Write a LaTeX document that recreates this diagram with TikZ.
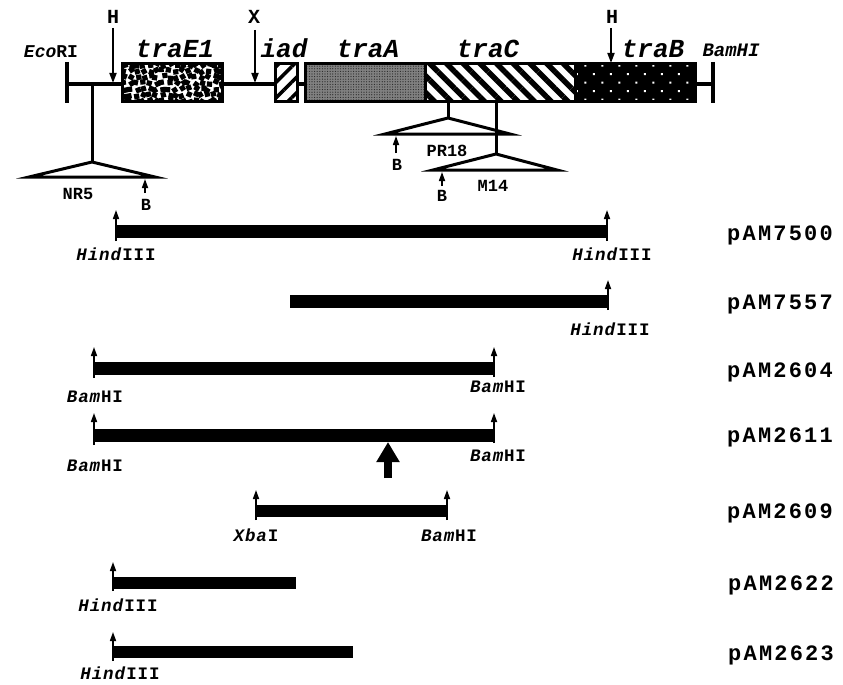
\documentclass[tikz,border=0pt]{standalone}
\usepackage{fontspec}
\setmonofont{Liberation Mono}
\newfontfamily\widemono[LetterSpace=10]{Liberation Mono}
\newfontfamily\sitemono[LetterSpace=5]{Liberation Mono}
\usetikzlibrary{patterns.meta,arrows.meta}

\tikzset{
  dna/.style={line width=3.5pt},
  endtick/.style={line width=4.5pt},
  genebox/.style={draw, line width=3pt},
  cutsite/.style={line width=1.8pt, -{Triangle[width=7pt,length=10pt]}},
  site/.style={line width=1.6pt, -{Triangle[width=6pt,length=9pt]}},
  insert/.style={line width=3pt, line join=miter},
  fragment/.style={fill=black},
  genelab/.style={font=\fontsize{26}{26}\selectfont\ttfamily\bfseries\itshape, inner sep=0pt, anchor=base},
  enzlab/.style={font=\fontsize{18}{18}\selectfont\ttfamily\bfseries, inner sep=0pt, anchor=base},
  sitelab/.style={font=\fontsize{20}{20}\selectfont\ttfamily\bfseries, inner sep=0pt, anchor=base},
  smalllab/.style={font=\fontsize{17}{17}\selectfont\ttfamily\bfseries, inner sep=0pt, anchor=base},
  reslab/.style={font=\fontsize{17.5}{17.5}\selectfont\sitemono\bfseries, inner sep=0pt, anchor=base},
  plasmid/.style={font=\fontsize{22}{22}\selectfont\widemono\bfseries, inner sep=0pt, anchor=base west},
}

\begin{document}
\begin{tikzpicture}[x=1pt,y=-1pt]
\useasboundingbox (0,0) rectangle (843,685);

% ---------------- physical map ----------------
\draw[dna] (67,84) -- (713,84);
\draw[endtick] (67,62) -- (67,103);
\draw[endtick] (713,62) -- (713,103);

% traE1: blotchy black squares
\fill[white] (122,64) rectangle (222,101);
\begin{scope}
  \clip (122,64) rectangle (222,101);
  \pgfmathsetseed{11}
  \foreach \gx in {124,130.5,...,224}{
    \foreach \gy in {65,71,...,103}{
      \pgfmathsetmacro\dx{\gx+2*rand}
      \pgfmathsetmacro\dy{\gy+1.6*rand}
      \pgfmathsetmacro\rot{35*rand}
      \fill[black, rotate around={\rot:(\dx,\dy)}] (\dx-2.6,\dy-2.6) rectangle (\dx+2.6,\dy+2.6);
    }
  }
\end{scope}
\draw[genebox] (122,64) rectangle (222,101);

% iad
\fill[white] (275,64) rectangle (297,101);
\fill[pattern={Lines[angle=45,distance=11pt,line width=3.5pt]}] (275,64) rectangle (297,101);
\draw[genebox] (275,64) rectangle (297,101);

% traA
\fill[black!50] (305,64) rectangle (425,101);
\fill[pattern={Dots[distance=2.6pt,radius=0.6pt]}, pattern color=black!85] (305,64) rectangle (425,101);

% traC
\fill[white] (425,64) rectangle (575,101);
\fill[pattern={Lines[angle=-45,distance=11.8pt,line width=5.5pt]}] (425,64) rectangle (575,101);

% traB
\fill[black] (575,64) rectangle (695,101);
\fill[pattern={Dots[angle=45,distance=12pt,radius=1.4pt]}, pattern color=white] (575,64) rectangle (695,101);

\draw[genebox] (305,64) rectangle (425,101);
\draw[genebox] (425,64) rectangle (575,101);
\draw[genebox] (575,64) rectangle (695,101);

% labels over the map
\node[enzlab] (ecori) at (51,58) {\textit{Eco}RI};
\node[genelab] (ltraE) at (175,58) {traE1};
\node[genelab] (liad) at (284,58) {iad};
\node[genelab] (ltraA) at (368,58) {traA};
\node[genelab] (ltraC) at (488,58) {traC};
\node[genelab] (ltraB) at (653,58) {traB};
\node[enzlab, font=\fontsize{19}{19}\selectfont\ttfamily\bfseries\itshape] (bamtop) at (731,57) {BamHI};

% restriction sites on the map
\node[sitelab] (h1) at (113,24) {H};
\node[sitelab] (x1) at (254,24) {X};
\node[sitelab] (h2) at (612,24) {H};
\coordinate (h1t) at (113,83);
\coordinate (x1t) at (255,83);
\coordinate (h2t) at (611,63);
\draw[cutsite] (113,28) -- (h1t);
\draw[cutsite] (255,30) -- (x1t);
\draw[cutsite] (611,28) -- (h2t);

% insertions
\draw[insert] (92,84) -- (92,162);
\draw[insert] (29,177) -- (92,162) -- (155,177) -- cycle;
\node[smalllab] (nr5) at (78,199) {NR5};
\coordinate (bn) at (145,179);
\draw[site] (145,193) -- (bn);
\node[smalllab] (bnl) at (146,210) {B};

\draw[insert] (448,102) -- (448,118);
\draw[insert] (385,134) -- (448,118) -- (510,134) -- cycle;
\node[smalllab] (pr18) at (447,156) {PR18};
\coordinate (bp) at (396,136);
\draw[site] (396,153) -- (bp);
\node[smalllab] (bpl) at (397,170) {B};

\draw[insert] (496,102) -- (496,154);
\draw[insert] (433,170) -- (496,154) -- (557,170) -- cycle;
\node[smalllab] (m14) at (493,191) {M14};
\coordinate (bm) at (442,172);
\draw[site] (442,186) -- (bm);
\node[smalllab] (bml) at (442,201) {B};

% ---------------- subclones ----------------
% pAM7500
\fill[fragment] (117,225) rectangle (607,238);
\draw[site] (116,241) -- (116,210);
\draw[site] (607,241) -- (607,210);
\node[reslab] (a1) at (116,260) {\textit{Hind}III};
\node[reslab] (a2) at (612,260) {\textit{Hind}III};
\node[plasmid] (p7500) at (727,240) {pAM7500};

% pAM7557
\fill[fragment] (290,295) rectangle (608,308);
\draw[site] (608,310) -- (608,280);
\node[reslab] (b1) at (610,335) {\textit{Hind}III};
\node[plasmid] (p7557) at (727,309) {pAM7557};

% pAM2604
\fill[fragment] (94,362) rectangle (494,375);
\draw[site] (94,378) -- (94,347);
\draw[site] (494,377) -- (494,347);
\node[reslab] (c1) at (95,402) {\textit{Bam}HI};
\node[reslab] (c2) at (498,392) {\textit{Bam}HI};
\node[plasmid] (p2604) at (727,377) {pAM2604};

% pAM2611
\fill[fragment] (94,429) rectangle (494,442);
\draw[site] (94,445) -- (94,413);
\draw[site] (494,443) -- (494,413);
\node[reslab] (d1) at (95,471) {\textit{Bam}HI};
\node[reslab] (d2) at (498,461) {\textit{Bam}HI};
\node[plasmid] (p2611) at (727,442) {pAM2611};
\coordinate (bigtip) at (388,442);
\draw[line width=8pt, -{Triangle[width=22pt,length=20pt]}] (388,478) -- (bigtip);

% pAM2609
\fill[fragment] (256,505) rectangle (447,517);
\draw[site] (256,520) -- (256,490);
\draw[site] (447,520) -- (447,490);
\node[reslab] (e1) at (256,541) {\textit{Xba}I};
\node[reslab] (e2) at (449,541) {\textit{Bam}HI};
\node[plasmid] (p2609) at (727,518) {pAM2609};

% pAM2622
\fill[fragment] (113,577) rectangle (296,589);
\draw[site] (113,591) -- (113,562);
\node[reslab] (f1) at (118,611) {\textit{Hind}III};
\node[plasmid] (p2622) at (728,590) {pAM2622};

% pAM2623
\fill[fragment] (113,646) rectangle (353,658);
\draw[site] (113,661) -- (113,632);
\node[reslab] (g1) at (120,679) {\textit{Hind}III};
\node[plasmid] (p2623) at (728,660) {pAM2623};

\end{tikzpicture}
\end{document}
